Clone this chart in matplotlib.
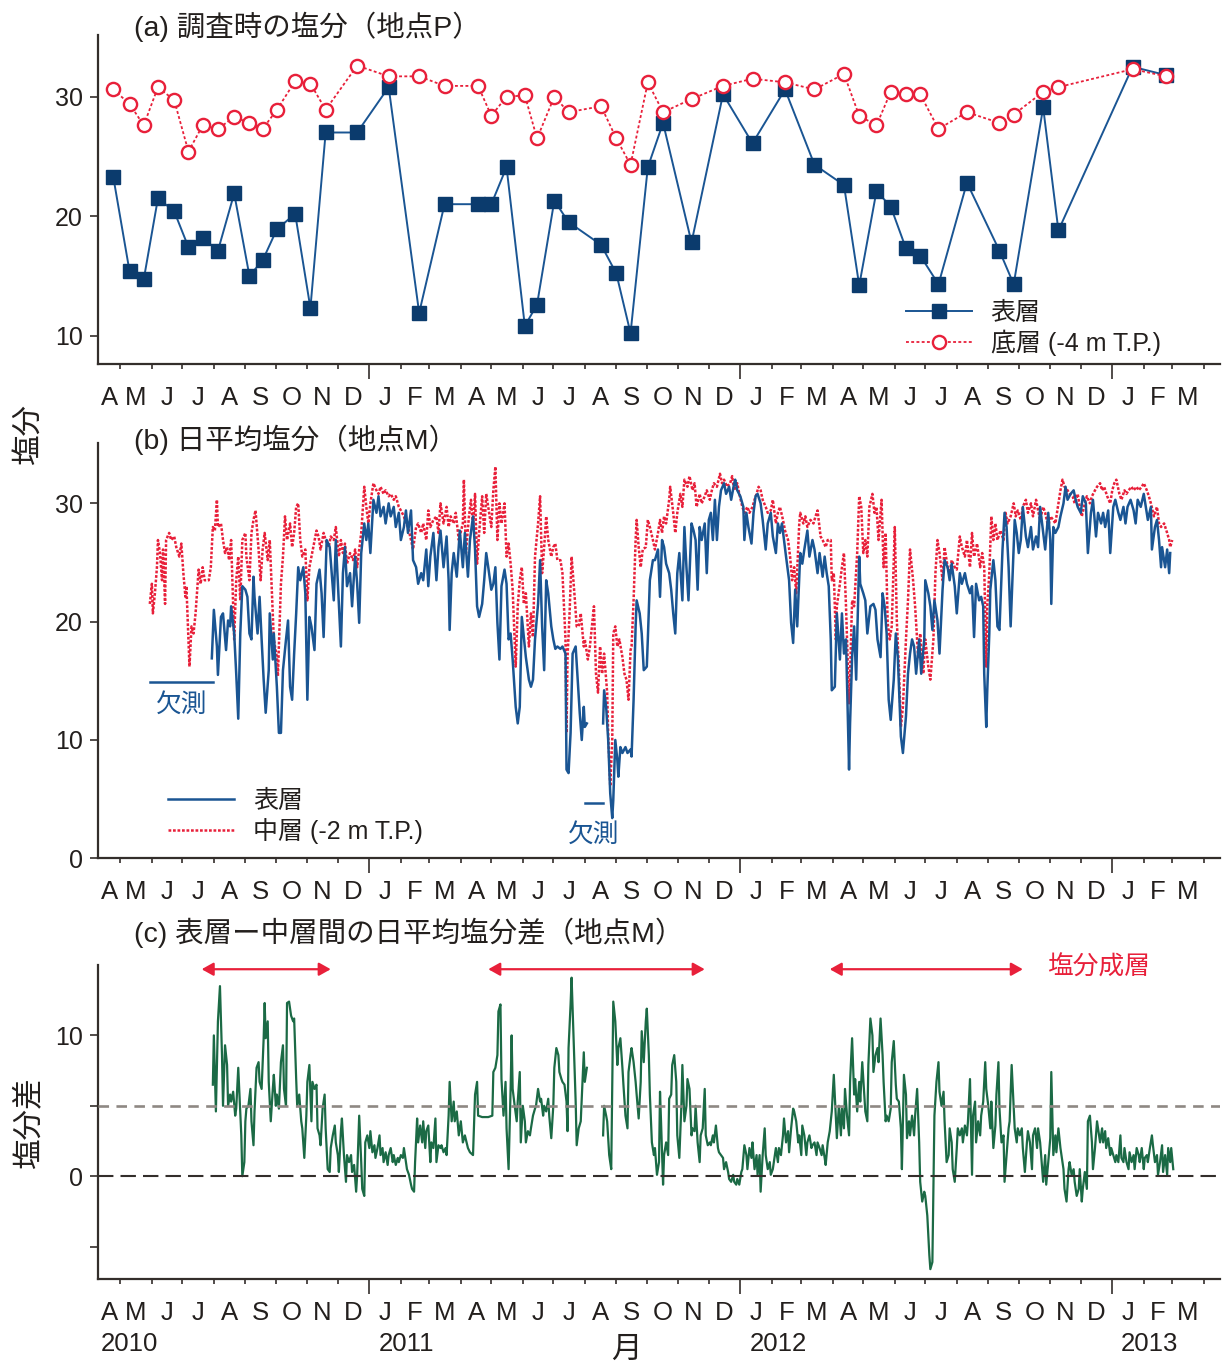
import numpy as np
import pandas as pd
import matplotlib
matplotlib.use("Agg")
import matplotlib.pyplot as plt
import matplotlib.dates as mdates

plt.rcParams["font.family"] = ["Liberation Sans", "Noto Sans CJK JP"]
plt.rcParams["axes.unicode_minus"] = False

nan = np.nan

# ---------------------------------------------------------------- data
# (a) salinity at station P on survey days
SURVEY_DATES = [
    "2010-04-24", "2010-05-10", "2010-05-24", "2010-06-07", "2010-06-23",
    "2010-07-07", "2010-07-21", "2010-08-05", "2010-08-21", "2010-09-05",
    "2010-09-18", "2010-10-02", "2010-10-20", "2010-11-04", "2010-11-19",
    "2010-12-20", "2011-01-20", "2011-02-19", "2011-03-16", "2011-04-18",
    "2011-05-01", "2011-05-16", "2011-06-03", "2011-06-15", "2011-07-02",
    "2011-07-16", "2011-08-17", "2011-09-01", "2011-09-15", "2011-10-02",
    "2011-10-17", "2011-11-14", "2011-12-15", "2012-01-13", "2012-02-14",
    "2012-03-14", "2012-04-12", "2012-04-27", "2012-05-14", "2012-05-28",
    "2012-06-12", "2012-06-26", "2012-07-14", "2012-08-11", "2012-09-12",
    "2012-09-26", "2012-10-25", "2012-11-09", "2013-01-21", "2013-02-23",
]
SURVEY_SURFACE = [
    23.3, 15.4, 14.7, 21.5, 20.4, 17.4, 18.2, 17.1, 21.9, 15.0,
    16.3, 18.9, 20.2, 12.3, 27.0, 27.0, 30.8, 11.9, 21.0, 21.0,
    21.0, 24.1, 10.8, 12.6, 21.3, 19.5, 17.6, 15.2, 10.2, 24.1,
    27.8, 17.8, 30.2, 26.1, 30.6, 24.3, 22.6, 14.2, 22.1, 20.8,
    17.3, 16.7, 14.3, 22.8, 17.1, 14.3, 29.1, 18.8, 32.5, 31.8,
]
SURVEY_BOTTOM = [
    30.6, 29.4, 27.6, 30.8, 29.7, 25.4, 27.6, 27.3, 28.3, 27.8,
    27.3, 28.9, 31.3, 31.1, 28.9, 32.6, 31.7, 31.7, 30.9, 30.9,
    28.4, 30.0, 30.1, 26.5, 30.0, 28.7, 29.2, 26.5, 24.3, 31.2,
    28.7, 29.8, 30.9, 31.5, 31.2, 30.6, 31.9, 28.4, 27.6, 30.4,
    30.2, 30.2, 27.3, 28.7, 27.8, 28.5, 30.4, 30.8, 32.3, 31.7,
]

# daily series at station M, indexed in days counted from this date
DAY_ORIGIN = "2010-04-01"

# (b) surface layer, daily mean salinity (nan = no record)
SURFACE_DAYS = [
    120, 122, 125, 126, 129, 131, 134, 136, 138, 139, 142, 144, 146, 148, 150, 153, 155, 157, 159, 161,
    162, 165, 167, 169, 171, 173, 176, 177, 180, 181, 184, 186, 188, 190, 193, 195, 197, 199, 201, 203,
    205, 207, 210, 212, 214, 216, 218, 221, 223, 226, 228, 230, 233, 236, 238, 240, 242, 245, 247, 249,
    251, 253, 256, 258, 261, 263, 265, 267, 270, 272, 274, 276, 279, 282, 284, 286, 289, 291, 294, 296,
    299, 301, 304, 306, 309, 311, 313, 316, 318, 321, 323, 326, 328, 331, 333, 335, 338, 341, 343, 345,
    348, 351, 353, 354, 356, 358, 361, 364,
    367, 369, 372, 374, 377, 379, 381, 383, 386, 388, 390, 392, 395, 397, 399, 401, 403, 405, 408, 410,
    412, 414, 416, 419, 421, 423, 425, 427, 429, 432, 434, 436, 438, 441, 443, 445, 447, 449, 451, 454,
    456, 458, 460, 463, 465, 468, 469, 471, 473, 475, 478, 480, 482, 484, 486, 487, 489,
    497,
    505, 506, 508, 510, 512, 514, 515, 517, 519, 520, 522, 524, 527, 529, 532, 533, 535, 537, 538, 541,
    543, 545, 548, 549, 551, 554, 556, 559, 561, 563, 565, 567, 570, 572, 574, 576, 578, 580, 583, 585,
    587, 589, 592, 594, 596, 598, 600, 602, 605, 607, 609, 611, 613, 615, 617, 619, 621, 624, 626, 629,
    631, 634, 635, 637, 640, 643, 644, 646, 648, 651, 653, 655, 657, 660, 662, 665, 667, 670, 672, 675,
    677, 679, 681, 683, 685, 688, 690, 692, 694, 696, 699, 701, 703, 706, 708, 711, 713, 716, 718, 721,
    723, 725, 727,
    729, 730, 733, 735, 738, 740, 742, 744, 747, 748, 750, 752, 754, 757, 758, 761, 763, 765, 768, 771,
    773, 775, 778, 780, 782, 784, 786, 788, 791, 793, 795, 798, 800, 803, 805, 807, 809, 811, 813, 816,
    818, 821, 822, 825, 827, 829, 831, 834, 836, 839, 841, 844, 846, 848, 851, 853, 856, 858, 861, 863,
    866, 868, 870, 872, 875, 877, 879, 880, 882, 883, 885, 886, 889, 891, 893, 895, 898, 900, 902, 904,
    906, 908, 910, 912, 914, 916, 918, 921, 923, 926, 928, 931, 933, 935, 938, 940, 943, 945, 946, 948,
    950, 953, 955, 958, 960, 962, 965, 968, 970, 972, 975, 977, 980, 982, 985, 987, 990, 992, 995, 997,
    999, 1002, 1004, 1007, 1009, 1012, 1014, 1017, 1019, 1021, 1024, 1027, 1029, 1031, 1034, 1037, 1039,
    1041, 1044, 1045, 1048, 1050, 1052, 1054, 1055, 1058, 1060, 1062, 1063,
]
SURFACE_SAL = [
    16.9, 21.0, 17.9, 15.5, 20.4, 20.7, 17.6, 20.1, 19.6, 21.3, 19.0, 15.6, 11.8, 19.0, 23.0, 22.7, 22.1, 19.0, 18.5, 23.8,
    22.1, 19.0, 22.1, 18.5, 15.1, 12.3, 15.9, 20.7, 16.8, 19.0, 14.5, 10.6, 10.6, 15.9, 18.5, 20.1, 14.5, 13.4, 17.3, 20.7,
    24.6, 23.5, 24.6, 22.4, 13.4, 20.4, 19.6, 17.6, 23.2, 24.4, 22.4, 18.7, 26.9, 26.3, 24.1, 21.8, 26.9, 21.5, 17.9, 24.1,
    26.3, 23.0, 24.1, 21.3, 25.5, 23.2, 19.9, 25.8, 28.3, 26.9, 28.3, 25.8, 30.3, 29.2, 30.6, 28.9, 29.7, 28.3, 30.0, 28.9,
    29.7, 28.0, 29.2, 26.9, 28.0, 29.4, 27.5, 29.4, 25.2, 24.6, 23.2, 24.1, 23.5, 26.1, 23.0, 25.5, 27.5, 23.5, 26.3, 27.7,
    24.6, 27.2, 23.5, 19.3, 24.1, 25.8, 23.8, 27.7,
    24.6, 27.5, 23.8, 26.9, 28.9, 26.1, 21.3, 20.4, 21.5, 23.5, 25.8, 24.6, 22.7, 23.2, 24.6, 19.9, 16.8, 23.0, 24.4, 23.2,
    18.5, 19.0, 16.8, 12.8, 11.4, 12.8, 20.4, 18.7, 17.0, 15.1, 14.5, 15.1, 18.5, 21.5, 25.2, 19.6, 15.9, 23.5, 22.4, 19.6,
    18.5, 17.7, 17.9, 17.7, 17.9, 17.3, 7.5, 7.2, 10.6, 17.3, 17.9, 15.1, 12.3, 10.0, 12.8, 11.1, 11.4,
    nan,
    11.4, 14.2, 12.8, 10.0, 5.5, 3.4, 4.9, 10.0, 8.3, 6.9, 9.4, 8.9, 9.4, 8.9, 9.2, 8.6, 13.4, 19.6, 21.8, 20.7,
    19.0, 15.9, 16.2, 18.5, 23.5, 25.2, 25.2, 26.1, 22.1, 26.9, 26.3, 24.9, 24.1, 22.7, 20.7, 19.0, 24.1, 25.8, 21.8, 28.0,
    24.6, 21.8, 28.3, 27.7, 26.9, 22.7, 28.0, 26.9, 28.3, 24.1, 28.6, 29.2, 26.9, 30.3, 26.9, 29.7, 31.1, 31.7, 30.8, 31.4,
    30.3, 31.7, 32.0, 31.1, 30.6, 29.7, 26.9, 29.2, 28.0, 26.6, 29.2, 30.6, 30.8, 30.0, 28.6, 26.1, 28.3, 29.2, 27.2, 25.8,
    28.3, 27.5, 28.3, 26.9, 25.5, 23.5, 19.9, 18.2, 22.7, 19.6, 25.8, 24.9, 26.1, 27.7, 25.5, 26.9, 26.1, 24.1, 25.8, 23.8,
    25.5, 24.1, 23.0,
    18.5, 14.2, 14.5, 20.7, 16.8, 20.7, 17.3, 18.5, 7.5, 11.4, 17.0, 19.6, 15.1, 25.5, 23.2, 22.4, 21.8, 19.0, 21.3, 21.5,
    21.0, 18.5, 17.0, 22.4, 21.3, 19.0, 13.4, 11.7, 15.1, 19.0, 17.0, 10.3, 8.9, 12.0, 15.6, 17.3, 18.5, 17.9, 15.6, 18.5,
    15.6, 18.5, 23.5, 22.4, 21.3, 19.3, 21.8, 20.1, 17.3, 22.7, 25.2, 24.6, 23.5, 24.9, 23.0, 20.7, 24.1, 23.2, 24.1, 23.2,
    22.4, 23.0, 18.7, 23.2, 21.8, 22.1, 21.3, 15.6, 11.1, 14.2, 19.0, 22.7, 25.2, 23.5, 19.6, 19.3, 26.1, 29.2, 28.0, 24.6,
    19.6, 24.1, 28.6, 27.5, 25.8, 26.9, 29.7, 27.2, 26.3, 28.0, 26.1, 27.2, 26.3, 29.7, 27.5, 26.1, 29.2, 26.9, 21.5, 28.0,
    27.5, 28.0, 28.9, 30.0, 31.4, 30.3, 30.8, 31.1, 30.3, 29.7, 29.2, 30.6, 30.0, 25.8, 29.2, 30.3, 27.2, 29.2, 28.3, 29.2,
    28.0, 29.4, 25.8, 29.7, 30.3, 29.2, 28.6, 29.7, 28.3, 29.7, 30.3, 29.4, 28.3, 30.3, 29.7, 30.8, 29.7, 28.6, 29.7,
    26.1, 28.0, 28.6, 26.9, 24.6, 26.3, 24.6, 26.1, 24.1, 25.8,
]

# (b) middle layer (-2 m T.P.), daily mean salinity
MIDDLE_DAYS = [
    59, 61, 62, 64, 66, 67, 69, 71, 72, 74, 75, 78, 80, 83, 85, 88, 90, 92, 94, 95,
    97, 98, 100, 102, 104, 107, 109, 111, 113, 117, 119, 121, 123, 125, 126, 129, 131, 133, 135, 137,
    139, 142, 144, 146, 148, 150, 153, 154, 157, 159, 161, 163, 166, 168, 170, 172, 175, 177, 180, 181,
    184, 185, 188, 190, 192, 194, 197, 199, 201, 203, 205, 207, 209, 212, 214, 216, 218, 221, 223, 225,
    227, 230, 232, 235, 237, 240, 242, 245, 247, 249, 251, 253, 256, 259, 261, 263, 265, 267, 270, 272,
    274, 276, 279, 282, 284, 286, 289, 291, 294, 296, 299, 301, 304, 306, 309, 311, 313, 316, 318, 321,
    323, 326, 328, 331, 333, 335, 338, 341, 343, 345, 348, 351, 353, 355, 358, 360, 363,
    367, 368, 370, 373, 375, 377, 379, 381, 383, 386, 388, 390, 392, 395, 397, 399, 401, 403, 405, 408,
    410, 412, 414, 416, 419, 421, 423, 425, 427, 429, 432, 434, 436, 438, 441, 443, 445, 447, 449, 451,
    454, 456, 458, 460, 463, 465, 468, 469, 470, 472, 474, 477, 479, 481, 483, 486, 487, 490, 492, 494,
    496, 498, 500, 502, 504, 506, 509, 510, 512, 514, 515, 517, 519, 521, 524, 526, 528, 530, 532, 533,
    535, 537, 538, 540, 542, 544, 547, 549, 551, 554, 556, 559, 561, 563, 565, 567, 570, 571, 574, 576,
    578, 581, 583, 585, 588, 590, 593, 595, 597, 600, 602, 605, 607, 610, 612, 614, 617, 620, 622, 624,
    627, 630, 632, 634, 637, 639, 642, 644, 647, 649, 652, 654, 656, 658, 660, 662, 665, 667, 670, 672,
    675, 677, 679, 682, 684, 687, 689, 691, 693, 695, 698, 699, 702, 704, 706, 709, 712, 714, 716, 719,
    721, 724, 726,
    729, 730, 732, 734, 735, 738, 740, 742, 744, 747, 748, 750, 752, 755, 757, 759, 761, 763, 765, 767,
    770, 772, 774, 776, 779, 781, 783, 785, 787, 789, 792, 794, 796, 798, 800, 803, 805, 807, 810, 812,
    815, 817, 820, 822, 825, 827, 830, 832, 834, 836, 839, 841, 844, 846, 848, 851, 853, 856, 858, 861,
    863, 866, 868, 870, 873, 876, 878, 880, 882, 883, 885, 887, 889, 891, 893, 896, 899, 901, 903, 906,
    909, 911, 913, 916, 918, 921, 923, 926, 928, 931, 933, 935, 938, 940, 943, 945, 948, 950, 953, 955,
    957, 959, 962, 964, 967, 969, 972, 974, 976, 979, 981, 984, 986, 989, 991, 994, 996, 998, 1001, 1004,
    1006, 1008, 1010, 1013, 1015, 1018, 1020, 1022, 1025, 1027, 1030, 1032, 1035, 1037, 1040, 1042, 1044,
    1047, 1050, 1052, 1054, 1057, 1060, 1062, 1063, 1065,
]
MIDDLE_SAL = [
    21.5, 23.2, 20.7, 22.4, 24.6, 26.9, 25.8, 23.5, 26.1, 21.5, 26.9, 27.5, 26.9, 27.2, 26.3, 25.5, 26.6, 24.1, 22.1, 23.0,
    18.5, 16.2, 19.6, 19.0, 20.7, 24.4, 23.2, 24.6, 23.5, 23.5, 24.6, 28.0, 27.7, 30.3, 28.0, 28.3, 26.9, 25.8, 26.3, 25.2,
    26.9, 18.5, 23.5, 25.5, 21.8, 26.9, 27.5, 25.5, 23.5, 27.5, 28.6, 29.4, 26.1, 23.5, 26.1, 27.5, 25.2, 26.9, 20.7, 18.5,
    17.0, 15.4, 23.2, 25.5, 28.9, 26.9, 28.3, 26.3, 27.5, 29.7, 30.0, 26.9, 25.5, 26.1, 21.8, 24.6, 25.5, 26.9, 27.7, 27.2,
    26.1, 27.5, 26.9, 26.3, 27.2, 26.9, 28.0, 25.5, 26.9, 25.8, 26.6, 24.9, 25.8, 25.2, 26.1, 24.6, 26.1, 27.5, 31.4, 29.7,
    28.3, 30.0, 31.7, 31.1, 30.8, 31.4, 30.8, 31.1, 30.6, 30.8, 30.3, 30.6, 29.7, 29.4, 28.9, 28.3, 28.0, 26.9, 26.1, 28.0,
    28.3, 27.5, 28.3, 26.9, 29.4, 28.0, 28.6, 28.9, 27.5, 30.0, 28.3, 29.7, 28.0, 28.9, 28.3, 29.2, 26.9,
    28.3, 32.0, 25.8, 28.9, 30.3, 28.0, 30.8, 24.9, 27.5, 30.6, 27.5, 30.8, 29.7, 28.0, 31.1, 33.1, 26.9, 30.0, 28.3, 30.0,
    25.5, 26.6, 24.9, 22.7, 16.2, 21.3, 23.5, 24.6, 21.5, 22.4, 17.9, 20.7, 18.7, 25.5, 28.3, 30.6, 24.1, 26.3, 28.9, 26.9,
    25.5, 26.3, 26.6, 25.2, 25.2, 24.1, 18.5, 10.6, 17.0, 20.7, 25.5, 22.1, 19.6, 19.6, 20.7, 17.9, 18.5, 16.8, 17.9, 19.6,
    21.3, 15.6, 14.0, 17.9, 15.6, 17.3, 14.0, 10.6, 6.1, 10.0, 19.0, 19.6, 17.9, 18.5, 17.0, 15.6, 15.1, 13.4, 17.6, 17.9,
    21.8, 26.9, 28.6, 26.3, 24.6, 26.1, 26.3, 28.6, 28.0, 26.9, 26.1, 27.5, 28.6, 27.5, 28.9, 28.3, 30.3, 31.4, 29.2, 27.5,
    29.2, 30.8, 29.7, 32.0, 31.4, 32.3, 31.1, 31.7, 29.7, 30.8, 30.0, 30.6, 31.1, 30.3, 31.1, 31.7, 31.4, 32.5, 31.7, 32.0,
    31.4, 31.7, 32.3, 31.1, 31.7, 30.8, 29.7, 29.2, 29.7, 29.2, 29.7, 30.3, 30.8, 31.4, 31.1, 30.3, 29.7, 29.2, 29.4, 30.3,
    28.3, 29.2, 29.7, 28.6, 27.7, 26.9, 25.5, 23.5, 24.6, 22.4, 28.3, 29.2, 28.3, 28.9, 28.0, 28.6, 28.3, 28.9, 29.4, 27.2,
    26.9, 26.3, 26.9,
    26.9, 23.5, 24.1, 18.5, 21.3, 23.2, 24.6, 25.8, 21.3, 13.1, 15.6, 21.8, 21.3, 25.8, 30.6, 29.7, 25.8, 26.9, 25.5, 29.7,
    30.8, 29.2, 29.7, 26.9, 30.3, 24.6, 27.5, 19.9, 18.5, 19.6, 28.0, 20.1, 16.2, 11.1, 12.8, 18.5, 21.8, 26.1, 23.5, 21.3,
    17.0, 19.0, 15.6, 18.5, 16.2, 15.1, 18.5, 24.1, 26.9, 25.8, 23.5, 26.3, 24.6, 24.1, 25.2, 24.6, 24.4, 27.2, 26.3, 25.5,
    26.9, 24.6, 27.5, 25.5, 26.6, 24.6, 25.8, 24.6, 16.2, 21.3, 24.1, 28.9, 26.9, 28.3, 26.9, 27.7, 26.9, 29.2, 28.3, 28.9,
    30.0, 28.9, 29.4, 28.6, 29.7, 30.3, 29.2, 30.0, 28.9, 30.3, 29.4, 28.6, 29.7, 29.2, 28.0, 28.9, 28.6, 28.3, 30.0, 31.1,
    32.0, 31.4, 31.1, 30.8, 30.6, 30.0, 30.8, 29.7, 28.9, 30.0, 30.6, 30.0, 30.6, 31.1, 31.4, 31.7, 31.1, 31.4, 30.6, 30.0,
    31.1, 31.7, 32.0, 30.8, 30.3, 31.1, 30.8, 31.1, 31.4, 31.1, 31.4, 31.1, 31.4, 31.7, 31.1, 30.6, 30.0,
    28.9, 29.7, 28.3, 28.0, 28.3, 27.5, 26.9, 26.3, 26.9,
]

# (c) middle minus surface, daily mean salinity difference (nan = no record)
DIFF_DAYS = [
    121, 122, 124, 126, 128, 130, 131, 133, 135, 136, 138, 139, 141, 143, 144, 146, 148, 149, 150, 152,
    153, 154, 156, 158, 159, 161, 162, 164, 166, 167, 169, 171, 172, 173, 175, 176, 178, 180, 181, 183,
    184, 186, 188, 190, 191, 193, 194, 196, 198, 200, 201, 203, 204, 206, 208, 209, 211, 213, 214, 216,
    218, 219, 221, 223, 224, 226, 227, 229, 231, 232, 234, 236, 237, 239, 241, 242, 244, 245, 247, 248,
    250, 252, 253, 255, 257, 258, 260, 262, 263, 265, 267, 268, 270, 271, 273, 275, 276, 278, 280, 281,
    283, 285, 286, 288, 289, 291, 293, 294, 296, 298, 299, 301, 303, 304, 306, 308, 309, 311, 312, 314,
    316, 317, 319, 320, 322, 323, 325, 327, 328, 330, 331, 333, 335, 336, 338, 340, 341, 343, 345, 346,
    348, 350, 351, 353, 354, 356, 358, 359, 361, 363,
    365, 367, 369, 372, 374, 377, 379, 381, 382, 386, 389, 392, 396, 397, 399, 401, 402, 404, 405, 407,
    409, 410, 412, 414, 415, 416, 418, 420, 421, 423, 424, 426, 428, 429, 431, 433, 434, 436, 438, 439,
    441, 443, 444, 446, 447, 449, 451, 452, 454, 456, 457, 459, 461, 462, 464, 465, 467, 469, 470, 471,
    473, 474, 476, 478, 479, 481, 483, 484, 486, 487, 489,
    497,
    505, 506, 508, 509, 511, 513, 514, 515, 517, 519, 520, 522, 524, 525, 527, 529, 530, 532, 533, 535,
    537, 538, 540, 542, 543, 545, 547, 548, 550, 551, 553, 555, 556, 558, 560, 561, 562, 564, 565, 567,
    569, 570, 572, 573, 575, 577, 578, 580, 582, 583, 585, 587, 588, 590, 592, 593, 595, 596, 598, 600,
    601, 603, 605, 606, 608, 610, 611, 613, 614, 616, 618, 619, 621, 623, 624, 626, 628, 629, 631, 633,
    634, 636, 637, 639, 641, 642, 644, 646, 647, 649, 651, 652, 654, 656, 657, 659, 660, 662, 664, 665,
    667, 669, 670, 672, 674, 675, 677, 678, 680, 682, 683, 685, 687, 688, 690, 692, 693, 695, 697, 698,
    700, 701, 703, 705, 706, 708, 710, 711, 713, 715, 716, 718, 720, 721, 723, 724, 726, 728,
    730, 732, 734, 735, 737, 739, 740, 742, 743, 745, 747, 748, 750, 752, 753, 755, 757, 758, 760, 762,
    763, 765, 766, 768, 770, 771, 773, 775, 776, 778, 780, 781, 783, 784, 786, 788, 789, 791, 793, 794,
    796, 798, 799, 801, 803, 804, 806, 807, 809, 811, 812, 814, 816, 817, 819, 821, 822, 824, 826, 827,
    829,
    830, 831, 833, 835, 836, 838, 840, 841, 843, 845, 846, 848, 849, 851, 853, 854, 856, 858, 859, 861,
    863, 864, 866, 868, 869, 871, 872, 874, 876, 877, 879, 881, 882, 884, 886, 887, 889, 891, 892, 894,
    895, 897, 899, 900, 902, 904, 905, 907, 909, 910, 912, 913, 915, 917, 918, 920, 922, 923, 925, 927,
    928, 930, 932, 933, 935, 936, 938, 940, 941, 943, 945, 946, 948, 950, 951, 953, 955, 956, 958, 959,
    961, 963, 964, 966, 968, 969, 971, 973, 974, 976, 977, 979, 981, 982, 984, 986, 987, 989, 991, 992,
    994, 996, 997, 999, 1000, 1002, 1004, 1005, 1007, 1009, 1010, 1012, 1014, 1015, 1017, 1018, 1020,
    1022, 1023, 1025, 1027, 1028, 1030, 1032, 1033, 1035, 1037, 1038, 1040, 1041, 1043, 1045, 1046,
    1048, 1050, 1051, 1053, 1055, 1056, 1058, 1060, 1061, 1063, 1064, 1066,
]
DIFF_SAL = [
    6.5, 10.0, 4.6, 11.0, 13.5, 8.6, 5.0, 9.3, 7.9, 5.0, 5.8, 5.3, 6.0, 4.3, 4.8, 7.7, 4.6, 2.9, 0.0, 1.0,
    3.9, 4.8, 5.0, 6.2, 3.9, 2.2, 4.6, 7.7, 8.1, 6.7, 6.2, 9.8, 12.3, 9.8, 11.0, 6.7, 3.9, 6.2, 7.2, 5.0,
    5.8, 4.8, 8.1, 9.3, 6.2, 5.0, 12.3, 12.4, 11.4, 11.0, 11.2, 6.9, 5.0, 5.8, 3.9, 3.4, 1.3, 4.3, 6.7, 7.9,
    3.9, 6.7, 6.2, 6.5, 3.4, 2.9, 2.2, 4.8, 5.8, 3.4, 0.5, 0.3, 2.0, 2.9, 3.6, 2.4, 1.5, 0.3, 3.2, 4.1,
    1.5, -0.4, 1.5, 1.0, 1.5, 0.3, 0.8, -1.1, 0.1, 4.3, 1.0, -0.9, -1.4, 2.4, 2.9, 2.0, 3.2, 1.7, 2.2, 1.3,
    2.0, 2.9, 1.5, 2.0, 1.0, 1.7, 0.8, 1.5, 2.0, 1.0, 1.5, 0.8, 1.3, 1.0, 1.5, 1.3, 2.0, 1.0, 0.5, 0.1,
    -0.6, -0.9, -1.1, 1.0, 4.1, 2.4, 3.6, 2.4, 3.9, 2.0, 3.2, 3.6, 1.0, 2.4, 2.0, 4.1, 1.0, 2.2, 2.0, 2.2,
    1.7, 2.0, 1.5, 4.3, 6.7, 3.9, 5.3, 3.9, 4.6, 2.9,
    3.9, 2.4, 2.9, 2.0, 1.7, 1.5, 5.8, 6.7, 4.3, 4.2, 4.2, 4.2, 4.3, 7.4, 7.7, 8.6, 11.7, 12.2, 6.9, 4.3,
    6.7, 3.4, 0.5, 6.2, 10.0, 6.2, 5.0, 3.9, 5.3, 7.4, 2.4, 5.0, 3.9, 2.4, 3.2, 2.9, 3.4, 4.3, 4.8, 5.0,
    6.2, 5.3, 5.5, 4.3, 5.0, 4.6, 5.5, 4.3, 2.7, 5.0, 7.7, 9.1, 8.6, 7.4, 6.9, 6.7, 6.5, 5.3, 3.2, 9.1,
    12.2, 14.1, 9.8, 5.3, 2.2, 3.4, 3.9, 5.5, 8.8, 6.7, 7.7,
    nan,
    2.9, 5.0, 4.3, 3.9, 1.5, 0.5, 6.2, 12.4, 11.0, 7.9, 9.1, 9.8, 7.7, 6.5, 4.3, 3.4, 7.4, 8.6, 9.1, 8.1,
    6.7, 5.8, 4.1, 6.7, 10.3, 8.1, 11.0, 11.9, 8.6, 5.8, 2.4, 1.5, 2.0, 0.1, 1.0, 6.0, 3.9, -0.6, 1.5, 2.4,
    1.5, 5.5, 5.8, 7.9, 8.6, 6.7, 2.9, 1.3, 5.0, 7.9, 3.9, 5.0, 6.9, 6.2, 2.9, 3.4, 3.2, 5.0, 2.4, 1.0,
    2.9, 3.4, 6.2, 2.9, 2.2, 2.4, 2.2, 2.9, 2.4, 3.6, 2.0, 1.7, 1.5, 1.3, 0.5, 1.0, 0.3, -0.2, -0.4, 0.1,
    -0.4, -0.6, -0.2, -0.6, 0.3, 0.5, 2.2, 1.5, 0.5, 2.0, 1.3, 2.4, 0.5, 1.5, 0.1, 1.5, -1.1, 1.5, 3.4, 1.5,
    0.5, 1.0, 0.1, 0.5, 1.5, 2.0, 1.0, 2.0, 1.5, 2.9, 4.1, 2.4, 3.2, 1.7, 3.4, 4.8, 4.6, 3.9, 2.4, 2.9,
    1.5, 3.6, 2.9, 1.5, 2.4, 2.9, 2.0, 2.2, 2.4, 1.5, 2.4, 2.0, 1.5, 2.2, 1.3, 0.8, 2.4, 3.2,
    4.6, 7.2, 4.3, 2.7, 5.0, 2.9, 4.8, 3.4, 6.2, 4.3, 2.9, 6.7, 9.8, 5.8, 6.9, 4.6, 6.7, 5.3, 8.1, 5.8,
    4.6, 3.9, 7.9, 11.2, 10.0, 7.4, 8.6, 9.1, 8.1, 11.2, 8.6, 6.7, 3.9, 4.3, 3.9, 4.8, 8.1, 9.6, 6.5, 5.5,
    5.3, 3.4, 0.5, 7.2, 5.8, 2.7, 3.9, 2.9, 4.3, 2.9, 4.3, 6.2, 2.4, -0.4, -1.8, -1.1, -1.4, -2.8, -5.6, -6.6,
    -6.1,
    -0.9, 4.3, 6.7, 8.1, 6.0, 5.0, 6.0, 3.9, 1.0, 1.5, 3.4, 2.4, 0.5, -0.4, 2.0, 3.4, 2.9, 3.4, 2.4, 3.6,
    2.9, 3.9, 6.9, 0.1, 4.3, 5.3, 2.4, 3.9, 2.9, 4.3, 5.3, 8.1, 6.2, 5.0, 3.4, 5.3, 2.0, 3.6, 5.8, 8.1,
    4.8, 2.4, 2.9, -0.4, 1.5, 3.4, 3.9, 7.9, 5.0, 3.4, 2.4, 3.4, 2.9, 3.4, 2.0, 0.3, 2.4, 3.2, 2.4, 0.5,
    2.9, 3.4, 2.0, 3.4, 2.4, 1.5, -0.4, 1.5, -0.6, 1.0, 2.7, 7.4, 1.5, 2.9, 1.7, 3.4, 2.0, 1.5, 0.5, -0.9,
    -1.8, 0.5, 1.0, 0.1, 0.5, -0.4, -1.4, -0.9, 0.5, -1.8, -0.9, 0.3, -0.9, 3.9, 4.3, 2.4, 0.5, 2.0, 3.9, 3.4,
    2.4, 3.4, 2.4, 3.2, 2.0, 2.7, 1.5, 2.0, 1.5, 1.0, 1.5, 1.0, 2.9, 1.3, 1.0, 2.0, 1.0,
    0.5, 1.7, 1.0, 1.5, 0.5, 2.0, 1.5, 1.0, 2.0, 0.5, 1.3, 1.5, 1.0, 2.0, 2.9, 2.2, 1.0,
    1.5, 0.1, 1.0, 2.2, 0.3, 1.5, 0.1, 2.0, 1.0, 2.0, 0.5,
]

# periods of salinity stratification
STRAT_PERIODS = [("2010-07-20", "2010-11-24"),
                 ("2011-04-28", "2011-11-27"),
                 ("2012-03-29", "2012-10-05")]
# periods without surface record
SURFACE_GAPS = [(59, 121), (487, 505)]

MONTH_INITIALS = list("AMJJASONDJFMAMJJASONDJFMAMJJASONDJFM")
YEAR_LABELS = ["2010", "2011", "2012", "2013"]
YEAR_LABEL_DATES = ["2010-05-10", "2011-02-07", "2012-02-07", "2013-02-07"]

for d, v in [(SURFACE_DAYS, SURFACE_SAL), (MIDDLE_DAYS, MIDDLE_SAL), (DIFF_DAYS, DIFF_SAL)]:
    assert len(d) == len(v), (len(d), len(v))

# ---------------------------------------------------------------- style
BLUE_MARK = "#0b3b6d"
BLUE = "#1a5593"
RED = "#e8203a"
GREEN = "#1b6a45"
AXIS = "#332e2b"
TEXT = "#231f1d"
GREY = "#8e8883"

ORIGIN_NUM = mdates.date2num(pd.Timestamp(DAY_ORIGIN))
XMIN = mdates.date2num(pd.Timestamp("2010-04-09"))
XMAX = mdates.date2num(pd.Timestamp("2013-04-17"))


def day_x(days):
    return ORIGIN_NUM + np.asarray(days, dtype=float)


def date_x(dates):
    return mdates.date2num(pd.to_datetime(dates))


fig = plt.figure(figsize=(12.22, 13.64), dpi=100, facecolor="white")
L, W = 98 / 1222, 1122 / 1222
axA = fig.add_axes([L, 1 - 364.3 / 1364, W, (364.3 - 35) / 1364])
axB = fig.add_axes([L, 1 - 858.3 / 1364, W, (858.3 - 443) / 1364])
axC = fig.add_axes([L, 1 - 1279 / 1364, W, (1279 - 965) / 1364])


def style_axes(ax, ylim, yticks, ylabels):
    ax.set_xlim(XMIN, XMAX)
    ax.set_ylim(*ylim)
    for s in ("top", "right"):
        ax.spines[s].set_visible(False)
    for s in ("left", "bottom"):
        ax.spines[s].set_color(AXIS)
        ax.spines[s].set_linewidth(1.6)
    ax.set_yticks(yticks)
    ax.set_yticklabels(ylabels)
    ax.tick_params(axis="y", direction="out", length=6, width=1.2, color=AXIS,
                   labelsize=18, labelcolor=TEXT, pad=5)
    ax.xaxis.set_major_locator(mdates.YearLocator())
    ax.xaxis.set_minor_locator(mdates.MonthLocator())
    ax.xaxis.set_major_formatter(plt.NullFormatter())
    ax.xaxis.set_minor_formatter(plt.NullFormatter())
    ax.tick_params(axis="x", which="major", direction="out", length=11, width=1.2, color=AXIS)
    ax.tick_params(axis="x", which="minor", direction="out", length=3.4, width=1.2, color=AXIS)
    starts = pd.date_range("2010-04-01", periods=len(MONTH_INITIALS) + 1, freq="MS")
    for i, letter in enumerate(MONTH_INITIALS):
        a = max(mdates.date2num(starts[i]), XMIN)
        b = min(mdates.date2num(starts[i + 1]), XMAX)
        ax.annotate(letter, xy=((a + b) / 2, 0), xycoords=("data", "axes fraction"),
                    xytext=(0, -41 * 0.72), textcoords="offset points",
                    ha="center", va="baseline", fontsize=18.5, color=TEXT,
                    annotation_clip=False)


# ---- (a)
style_axes(axA, (7.6, 35.16), [10, 20, 30], ["10", "20", "30"])
ls_a, = axA.plot(date_x(SURVEY_DATES), SURVEY_SURFACE, color=BLUE, lw=1.4,
                 marker="s", markersize=10.5, mfc=BLUE_MARK, mec=BLUE_MARK, zorder=3)
lb_a, = axA.plot(date_x(SURVEY_DATES), SURVEY_BOTTOM, color=RED, lw=1.3,
                 dashes=(1.6, 1.3), marker="o", markersize=9.5, mfc="white",
                 mec=RED, mew=1.7, zorder=4)
axA.legend([ls_a, lb_a], ["表層", "底層 (-4 m T.P.)"], loc="upper left",
           bbox_to_anchor=(0.720, 0.193), frameon=False, fontsize=18,
           handlelength=2.64, handletextpad=0.75, labelspacing=0.2,
           borderpad=0, borderaxespad=0, numpoints=1, labelcolor=TEXT)

# ---- (b)
style_axes(axB, (0, 35.1), [0, 10, 20, 30], ["0", "10", "20", "30"])
lm_b, = axB.plot(day_x(MIDDLE_DAYS), MIDDLE_SAL, color=RED, lw=1.8,
                 dashes=(1.1, 0.7), zorder=2)
ls_b, = axB.plot(day_x(SURFACE_DAYS), SURFACE_SAL, color=BLUE, lw=1.8, zorder=3)
axB.legend([ls_b, lm_b], ["表層", "中層 (-2 m T.P.)"], loc="upper left",
           bbox_to_anchor=(0.0627, 0.1676), frameon=False, fontsize=18,
           handlelength=2.64, handletextpad=0.75, labelspacing=0.2,
           borderpad=0, borderaxespad=0, labelcolor=TEXT)
for (g0, g1), yline, ytext in zip(SURFACE_GAPS, [14.9, 4.7], [13.0, 2.0]):
    axB.plot(day_x([g0, g1]), [yline, yline], color=BLUE, lw=1.8)
    axB.text(day_x([(g0 + g1) / 2])[0], ytext, "欠測", color=BLUE, fontsize=18.5,
             ha="center", va="center")

# ---- (c)
style_axes(axC, (-7.3, 15.0), [-5, 0, 5, 10], ["", "0", "", "10"])
axC.plot(day_x(DIFF_DAYS), DIFF_SAL, color=GREEN, lw=1.6, zorder=2)
axC.axhline(5, color=GREY, lw=1.9, dashes=(4.0, 2.8), zorder=3)
axC.axhline(0, color=AXIS, lw=1.5, dashes=(7.4, 3.4), zorder=3)
for start, end in STRAT_PERIODS:
    axC.annotate("", xy=(date_x(end), 14.7), xytext=(date_x(start), 14.7),
                 arrowprops=dict(arrowstyle="<|-|>,head_length=0.5,head_width=0.28",
                                 color=RED, lw=1.6, shrinkA=0, shrinkB=0,
                                 mutation_scale=14),
                 annotation_clip=False)
axC.text(date_x("2012-10-29"), 14.85, "塩分成層", color=RED, fontsize=18.5,
         ha="left", va="center")
for lab, d in zip(YEAR_LABELS, YEAR_LABEL_DATES):
    axC.annotate(lab, xy=(date_x(d), 0), xycoords=("data", "axes fraction"),
                 xytext=(0, -72 * 0.72), textcoords="offset points",
                 ha="center", va="baseline", fontsize=18.5, color=TEXT,
                 annotation_clip=False)

# ---- titles and axis labels
fig.text(134 / 1222, 1 - 36 / 1364, "(a) 調査時の塩分（地点P）", fontsize=20.5,
         color=TEXT, ha="left", va="baseline")
fig.text(134 / 1222, 1 - 449 / 1364, "(b) 日平均塩分（地点M）", fontsize=20.5,
         color=TEXT, ha="left", va="baseline")
fig.text(134 / 1222, 1 - 942 / 1364, "(c) 表層ー中層間の日平均塩分差（地点M）",
         fontsize=20.5, color=TEXT, ha="left", va="baseline")
fig.text(29 / 1222, 1 - 434 / 1364, "塩分", fontsize=22, color=TEXT,
         rotation=90, ha="center", va="center")
fig.text(29 / 1222, 1 - 1122 / 1364, "塩分差", fontsize=22, color=TEXT,
         rotation=90, ha="center", va="center")
fig.text(626 / 1222, 1 - 1350 / 1364, "月", fontsize=22, color=TEXT,
         ha="center", va="center")

fig.savefig("out.png", dpi=100, facecolor="white")
